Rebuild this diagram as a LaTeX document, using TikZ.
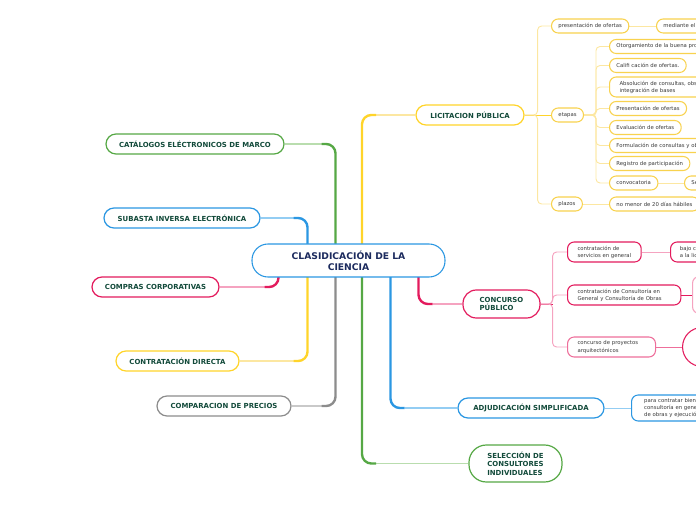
\documentclass[tikz,border=0pt]{standalone}
\usepackage{fontspec}
\setmainfont{DejaVu Sans}
\usepackage{tikz}
\usetikzlibrary{positioning, calc, backgrounds}

\definecolor{yel}{HTML}{FFD42A}
\definecolor{yelbd}{HTML}{F8D24E}
\definecolor{yellt}{HTML}{FCE7A1}
\definecolor{grn}{HTML}{56A845}
\definecolor{grnlt}{HTML}{B9DDAE}
\definecolor{blu}{HTML}{2B97E2}
\definecolor{blult}{HTML}{93CDF3}
\definecolor{pnk}{HTML}{E31B5D}
\definecolor{pnkmd}{HTML}{EE6F9B}
\definecolor{pnklt}{HTML}{F5A3C0}
\definecolor{gry}{HTML}{8C8C8C}
\definecolor{grylt}{HTML}{C9C9C9}
\definecolor{headtxt}{HTML}{124A3A}
\definecolor{roottxt}{HTML}{1C2B5E}
\definecolor{leaftxt}{HTML}{3A3A3A}

\begin{document}
\begin{tikzpicture}[x=0.75pt, y=-0.75pt,
  root/.style  = {draw=blu, fill=white, line width=0.8pt, rounded corners=12pt,
                  minimum width=144.75pt, minimum height=24.75pt, align=center,
                  text=roottxt, font=\bfseries\fontsize{6.9}{8.4}\selectfont},
  topic/.style = {draw, fill=white, line width=0.9pt, rounded corners=7.5pt,
                  minimum height=15pt, align=center, inner sep=0pt,
                  text=headtxt, font=\bfseries\fontsize{5.2}{6.4}\selectfont},
  leaf/.style  = {draw, fill=white, line width=0.8pt, rounded corners=5pt,
                  minimum height=10.5pt, anchor=west, align=left, inner xsep=5.2pt,
                  inner ysep=0pt, text=leaftxt, font=\fontsize{4}{5.3}\selectfont},
  trunk/.style = {line width=1.8pt, rounded corners=7pt},
  twig/.style  = {line width=0.9pt},
  sub/.style   = {line width=0.7pt, rounded corners=3pt}
]
  \useasboundingbox (0,0) rectangle (696,520);

  % centre
  \node[root] (root) at (348.5,260.5) {CLASIDICACIÓN DE LA\\CIENCIA};

  % left side
  \node[topic, draw=grn, minimum width=133.5pt] (cat)  at (195,144)   {CATÁLOGOS ELÉCTRONICOS DE MARCO};
  \node[topic, draw=blu, minimum width=117pt]   (sub)  at (182,218)   {SUBASTA INVERSA ELECTRÓNICA};
  \node[topic, draw=pnk, minimum width=95.25pt] (comp) at (155.5,287) {COMPRAS CORPORATIVAS};
  \node[topic, draw=yel, minimum width=92.25pt] (cdir) at (177.5,361) {CONTRATACIÓN DIRECTA};
  \node[topic, draw=gry, minimum width=100.5pt] (cpre) at (224,406)   {COMPARACION DE PRECIOS};

  % right side
  \node[topic, draw=yel, minimum width=81pt]    (lic)  at (470,115)   {LICITACION PÚBLICA};
  \node[topic, draw=pnk, minimum width=57.75pt, minimum height=21pt, rounded corners=10pt,
        align=left] (conc) at (501.5,304) {CONCURSO\\PÚBLICO};
  \node[topic, draw=blu, minimum width=109.5pt] (adj)  at (531,408)   {ADJUDICACIÓN SIMPLIFICADA};
  \node[topic, draw=grn, minimum width=69.75pt, minimum height=27.75pt, rounded corners=13pt,
        align=left] (sel) at (515.5,463.5) {SELECCIÓN DE\\CONSULTORES\\INDIVIDUALES};

  % licitacion
  \node[leaf, draw=yelbd] (pres) at (551,26)    {presentación de ofertas};
  \node[leaf, draw=yelbd, text width=60pt] (med) at (656,26) {mediante el};
  \node[leaf, draw=yelbd] (eta)  at (551,115)   {etapas};
  \node[leaf, draw=yelbd] (pla)  at (551,204)   {plazos};
  \node[leaf, draw=yelbd, text width=120pt] (otor) at (609,46.5) {Otorgamiento de la buena pro};
  \node[leaf, draw=yelbd] (cali) at (609,65.5)  {Califi cación de ofertas.};
  \node[leaf, draw=yelbd, text width=120pt, minimum height=15pt, inner xsep=7.5pt]
        (abso) at (609,87) {Absolución de consultas, observaciones\\integración de bases};
  \node[leaf, draw=yelbd] (prep) at (609,108.5) {Presentación de ofertas};
  \node[leaf, draw=yelbd] (eval) at (609,127.5) {Evaluación de ofertas};
  \node[leaf, draw=yelbd, text width=120pt] (form) at (609,145.5) {Formulación de consultas y observaciones};
  \node[leaf, draw=yelbd] (regi) at (609,163.5) {Registro de participación};
  \node[leaf, draw=yelbd] (conv) at (609,183)   {convocatoria};
  \node[leaf, draw=yelbd, text width=30pt] (se) at (684,183) {Se};
  \node[leaf, draw=yelbd] (nome) at (609,204)   {no menor de 20 días hábiles};

  % concurso
  \node[leaf, draw=pnk, minimum height=15pt, inner xsep=7.5pt] (cser) at (567,252)
        {contratación de\\servicios en general};
  \node[leaf, draw=pnk, minimum height=15pt, text width=60pt, inner xsep=7pt] (bajo) at (670,252)
        {bajo condiciones\\a la licitación};
  \node[leaf, draw=pnk, minimum height=15pt, inner xsep=7.5pt, text width=70pt] (ccons) at (567,295)
        {contratación de Consultoría en\\General y Consultoría de Obras};
  \node[leaf, draw=pnklt, minimum width=40pt, minimum height=27.75pt] (tall) at (692,295) {};
  \node[leaf, draw=pnkmd, minimum height=15pt, inner xsep=7.5pt, text width=51pt] (cproy) at (567,347)
        {concurso de proyectos\\arquitectónicos};
  \node[draw=pnk, fill=white, line width=0.8pt, circle, minimum size=29.25pt, anchor=west] (circ) at (682,347) {};

  % adjudicacion
  \node[leaf, draw=blu, minimum height=19.5pt, text width=80pt, inner xsep=9.5pt] (para) at (631,408)
        {para contratar bienes\\consultoría en general\\de obras y ejecución};

  \begin{scope}[on background layer]
    % main branches
    \draw[twig, grnlt] ($(root.center |- cat.east)+(-27,0)$) -- (cat.east);
    \draw[trunk, grn]  ($(root.center)+(-13,0)$) |- ($(root.center |- cat.east)+(-27,0)$);
    \draw[twig, blult] ($(root.center |- sub.east)+(-55,0)$) -- (sub.east);
    \draw[trunk, blu]  ($(root.center)+(-41,0)$) |- ($(root.center |- sub.east)+(-55,0)$);
    \draw[twig, yellt] ($(root.center |- lic.west)+(27.5,0)$) -- (lic.west);
    \draw[trunk, yel]  ($(root.center)+(13.5,0)$) |- ($(root.center |- lic.west)+(27.5,0)$);
    \draw[twig, pnklt] ($(root.center |- comp.east)+(-84,0)$) -- (comp.east);
    \draw[trunk, pnk]  ($(root.center)+(-70,0)$) |- ($(root.center |- comp.east)+(-84,0)$);
    \draw[twig, yellt] ($(root.center |- cdir.east)+(-55,0)$) -- (cdir.east);
    \draw[trunk, yel]  ($(root.center)+(-41,0)$) |- ($(root.center |- cdir.east)+(-55,0)$);
    \draw[twig, grylt] ($(root.center |- cpre.east)+(-27,0)$) -- (cpre.east);
    \draw[trunk, gry]  ($(root.center)+(-13,0)$) |- ($(root.center |- cpre.east)+(-27,0)$);
    \draw[twig, grnlt] ($(root.center |- sel.west)+(27.5,0)$) -- (sel.west);
    \draw[trunk, grn]  ($(root.center)+(13.5,0)$) |- ($(root.center |- sel.west)+(27.5,0)$);
    \draw[twig, blult] ($(root.center |- adj.west)+(56,0)$) -- (adj.west);
    \draw[trunk, blu]  ($(root.center)+(42,0)$) |- ($(root.center |- adj.west)+(56,0)$);
    \draw[twig, pnklt] ($(root.center |- conc.west)+(84,0)$) -- (conc.west);
    \draw[trunk, pnk]  ($(root.center)+(70,0)$) |- ($(root.center |- conc.west)+(84,0)$);

    % licitacion
    \draw[sub, yel] (lic.east) -- (eta.west);
    \draw[sub, yellt] (lic.east) -- ++(13,0) |- (pres.west);
    \draw[sub, yellt] (lic.east) -- ++(13,0) |- (pla.west);
    \draw[sub, yellt] (pres.east) -- (med.west);
    \foreach \k in {otor,cali,abso,prep,eval,form,regi,conv}
      \draw[sub, yellt] (eta.east) -- ++(12,0) |- (\k.west);
    \draw[sub, yellt] (conv.east) -- (se.west);
    \draw[sub, yellt] (pla.east) -- (nome.west);

    % concurso
    \draw[sub, pnk] (conc.east) -- ++(12,0);
    \foreach \k in {cser,ccons,cproy}
      \draw[sub, pnklt] (conc.east) -- ++(12,0) |- (\k.west);
    \draw[sub, pnklt] (cser.east) -- (bajo.west);
    \draw[sub, pnk] (ccons.east) -- (tall.west);
    \draw[sub, pnkmd] (cproy.east) -- (circ.west);

    % adjudicacion
    \draw[sub, blult] (adj.east) -- (para.west);
  \end{scope}
\end{tikzpicture}
\end{document}
